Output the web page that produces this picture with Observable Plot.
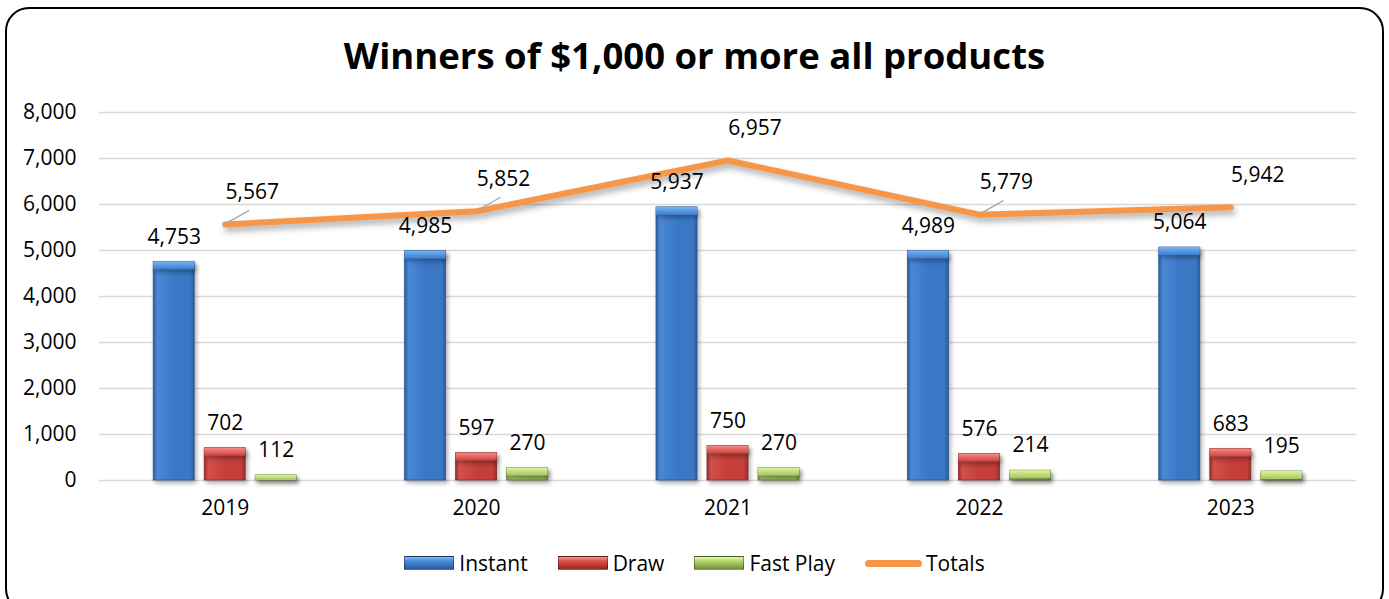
<!DOCTYPE html>
<html>
<head>
<meta charset="utf-8">
<script src="https://cdn.jsdelivr.net/npm/d3@7"></script>
<script src="https://cdn.jsdelivr.net/npm/@observablehq/plot@0.6"></script>
<style>
  html, body { margin: 0; padding: 0; background: #fff; overflow: hidden; }
  body { width: 1389px; height: 599px; position: relative; font-family: "Open Sans", sans-serif; }
  #frame { position: absolute; left: 5px; top: 7px; width: 1379px; height: 606px; border: 2.5px solid #000; border-radius: 24px; box-sizing: border-box; }
  #title { position: absolute; left: 0; top: 29px; width: 1389px; text-align: center; font-weight: 700; font-size: 36.5px; line-height: 52px; color: #000; }
  #chart { position: absolute; left: 0; top: 0; }
  #legend { position: absolute; left: 0; top: 549px; width: 1389px; display: flex; justify-content: center; align-items: center; font-size: 21px; color: #000; }
  .item { display: flex; align-items: center; margin: 0 15px; }
  .sw { width: 50px; height: 14px; margin-right: 5px; box-sizing: border-box; }
  .ln { width: 57px; height: 7px; border-radius: 4px; margin-right: 4px; }
</style>
</head>
<body>
<div id="frame"></div>
<div id="title">Winners of $1,000 or more all products</div>
<div id="chart"></div>
<div id="legend"></div>
<script>
// ---- Data ----
const years = [2019, 2020, 2021, 2022, 2023];
const seriesNames = ["Instant", "Draw", "Fast Play", "Totals"];
const instant = [4753, 4985, 5937, 4989, 5064];
const draw = [702, 597, 750, 576, 683];
const fastPlay = [112, 270, 270, 214, 195];
const totals = [5567, 5852, 6957, 5779, 5942];
const yTicks = [0, 1000, 2000, 3000, 4000, 5000, 6000, 7000, 8000];
const leaderYears = [2019, 2020, 2022];

// ---- Layout ----
const W = 1389, H = 530, ML = 99, MR = 33, MT = 112, MB = 50;
const xPerPx = (years.length) / (W - ML - MR);
const yPerPx = 8000 / (H - MT - MB);
const barW = 41, barStep = 51, capPx = 8;

const barSeries = [
  {name: "Instant", values: instant, fill: "url(#gInstant)", cap: "url(#cInstant)", stroke: "#2a568f"},
  {name: "Draw", values: draw, fill: "url(#gDraw)", cap: "url(#cDraw)", stroke: "#8c2a27"},
  {name: "Fast Play", values: fastPlay, fill: "url(#gFast)", cap: "url(#cFast)", stroke: "#6f8a3a"}
];

const fmt = d3.format(",");
const marks = [Plot.ruleY(yTicks, {stroke: "#d9d9d9", strokeWidth: 1.5})];

barSeries.forEach((s, i) => {
  const rows = years.map((y, j) => ({year: y, value: s.values[j], c: y + (i - 1) * barStep * xPerPx}));
  const hw = barW / 2 * xPerPx;
  marks.push(Plot.rectY(rows, {x1: d => d.c - hw, x2: d => d.c + hw, y1: 0, y2: "value", fill: s.fill, stroke: s.stroke, strokeWidth: 0.8}));
  marks.push(Plot.rectY(rows, {x1: d => d.c - hw, x2: d => d.c + hw, y1: d => Math.max(0, d.value - capPx * yPerPx), y2: "value", fill: s.cap}));
});

const totalRows = years.map((y, j) => ({year: y, value: totals[j]}));
marks.push(Plot.line(totalRows, {x: "year", y: "value", stroke: "#f79646", strokeWidth: 6, strokeLinecap: "round", strokeLinejoin: "miter"}));

// leader lines
marks.push(Plot.link(totalRows.filter(d => leaderYears.includes(d.year)), {
  x1: d => d.year + 1 * xPerPx, y1: d => d.value + 1 * yPerPx,
  x2: d => d.year + 24 * xPerPx, y2: d => d.value + 14 * yPerPx,
  stroke: "#a6a6a6", strokeWidth: 1.3
}));

// bar labels
barSeries.forEach((s, i) => {
  const rows = years.map((y, j) => ({year: y, value: s.values[j], c: y + (i - 1) * barStep * xPerPx}));
  marks.push(Plot.text(rows, {x: "c", y: "value", text: d => fmt(d.value), dy: -25, fill: "#000", fontSize: 21}));
});
// totals labels
marks.push(Plot.text(totalRows, {x: "year", y: "value", text: d => fmt(d.value), dx: 27, dy: -32, fill: "#000", fontSize: 21}));

const chart = Plot.plot({
  width: W, height: H,
  marginLeft: ML, marginRight: MR, marginTop: MT, marginBottom: MB,
  style: {fontFamily: '"Open Sans", sans-serif', fontSize: "21px", color: "#000", background: "transparent", overflow: "visible"},
  x: {domain: [2018.5, 2023.5], ticks: years, tickFormat: d => String(d), tickSize: 0, tickPadding: 20, label: null},
  y: {domain: [0, 8000], ticks: yTicks, tickFormat: fmt, tickSize: 0, tickPadding: 23, label: null},
  marks
});

// gradients for the bevel look
const svg = d3.select(chart);
const defs = svg.insert("defs", ":first-child");
function hGrad(id, edge, mid, light) {
  const g = defs.append("linearGradient").attr("id", id).attr("x1", 0).attr("x2", 1).attr("y1", 0).attr("y2", 0);
  [[0, edge], [0.1, light], [0.5, mid], [0.9, mid], [1, edge]].forEach(([o, c]) => g.append("stop").attr("offset", o).attr("stop-color", c));
}
function vGrad(id, top, bottom) {
  const g = defs.append("linearGradient").attr("id", id).attr("x1", 0).attr("x2", 0).attr("y1", 0).attr("y2", 1);
  g.append("stop").attr("offset", 0).attr("stop-color", top);
  g.append("stop").attr("offset", 1).attr("stop-color", bottom);
}
hGrad("gInstant", "#2b5d9e", "#3a77c4", "#4a89d6");
vGrad("cInstant", "#73b4f7", "#3e7cc9");
hGrad("gDraw", "#97302c", "#c53e3a", "#d4504b");
vGrad("cDraw", "#f88a86", "#c94440");
hGrad("gFast", "#78943f", "#9bbb59", "#a9c868");
vGrad("cFast", "#dcf59a", "#a6c463");

svg.selectAll('g[aria-label="rect"]').style("filter", "drop-shadow(2px 3px 2px rgba(0,0,0,0.3))");
svg.selectAll('g[aria-label="line"]').style("filter", "drop-shadow(2px 4px 3px rgba(0,0,0,0.35))");

document.getElementById("chart").appendChild(chart);

// legend
const legend = d3.select("#legend");
const swatchCss = {
  "Instant": "linear-gradient(to bottom, #7bbcff 0%, #4a8ad8 35%, #3570bb 70%, #2a5a98 100%)",
  "Draw": "linear-gradient(to bottom, #ff8f8a 0%, #d9524d 35%, #b83733 70%, #8f2b28 100%)",
  "Fast Play": "linear-gradient(to bottom, #e2fa9f 0%, #b4d46f 35%, #93b350 70%, #6f8a3a 100%)"
};
seriesNames.forEach(n => {
  const it = legend.append("div").attr("class", "item");
  if (n === "Totals") {
    it.append("div").attr("class", "ln").style("background", "#f79646");
  } else {
    it.append("div").attr("class", "sw").style("background", swatchCss[n]).style("border", "1px solid rgba(0,0,0,0.35)");
  }
  it.append("span").text(n);
});
</script>
</body>
</html>
